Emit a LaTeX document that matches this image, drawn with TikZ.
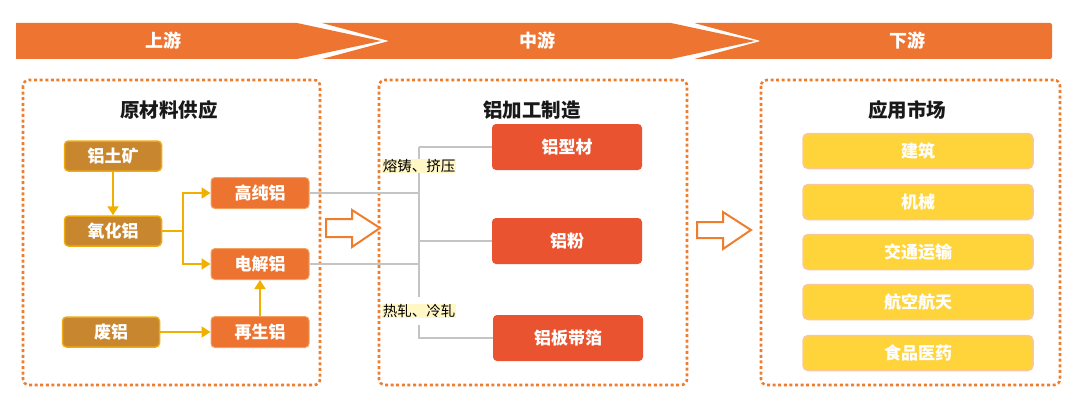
\documentclass[tikz,border=0pt]{standalone}
\usepackage{fontspec}
\setmainfont{Noto Sans CJK SC}
\usetikzlibrary{arrows.meta}
\definecolor{bannerC}{HTML}{ED7531}
\definecolor{dotC}{HTML}{EE7D2E}
\definecolor{brownC}{HTML}{C8862F}
\definecolor{brownB}{HTML}{EEAA10}
\definecolor{orgC}{HTML}{ED7430}
\definecolor{orgB}{HTML}{F3A060}
\definecolor{redC}{HTML}{E9532F}
\definecolor{yelC}{HTML}{FFD43A}
\definecolor{yelB}{HTML}{F9C79A}
\definecolor{goldC}{HTML}{EFB000}
\definecolor{grayC}{HTML}{C4C4C4}
\definecolor{labC}{HTML}{FFF7C6}
\tikzset{
  lbl/.style={font=\bfseries\fontsize{17}{19}\selectfont, text=white},
  brownbox/.style={lbl, draw=brownB, line width=1.5pt, fill=brownC, rounded corners=4pt, minimum width=97pt, minimum height=30pt, inner sep=0pt},
  orgbox/.style={lbl, draw=orgB, line width=1pt, fill=orgC, rounded corners=4pt, minimum width=98pt, minimum height=31pt, inner sep=0pt},
  redbox/.style={lbl, fill=redC, rounded corners=4pt, minimum width=150pt, minimum height=46pt, inner sep=0pt},
  yelbox/.style={lbl, draw=yelB, line width=1.5pt, fill=yelC, rounded corners=5pt, minimum width=230pt, minimum height=35pt, inner sep=0pt},
  dotbox/.style={draw=dotC, line width=2.6pt, dash pattern=on 3pt off 2.6pt, rounded corners=6pt},
  title/.style={font=\bfseries\fontsize{19.5}{21}\selectfont, text=black!90},
  garrow/.style={draw=goldC, line width=2pt, -{Triangle[length=9pt,width=11pt]}},
  gline/.style={draw=grayC, line width=2pt},
  proc/.style={fill=labC, font=\fontsize{14.5}{16}\selectfont, inner sep=0.5pt, text=black},
  hollow/.style={draw=dotC, line width=2pt, fill=white, line join=miter},
  bannertext/.style={font=\bfseries\fontsize{18}{20}\selectfont, text=white}
}
\begin{document}
\begin{tikzpicture}[x=1pt,y=-1pt]
\useasboundingbox (0,0) rectangle (1080,404);
% banner
\fill[bannerC] (16,23) -- (297,23) -- (381,41) -- (297,59) -- (16,59) -- cycle;
\fill[bannerC] (322,23) -- (671,23) -- (755,41) -- (671,59) -- (322,59) -- (389,41) -- cycle;
\fill[bannerC, rounded corners=2pt] (694,23) -- (1052,23) -- (1052,59) -- (694,59) -- (761,41) -- cycle;
\node[bannertext] (b1) at (163,41) {上游};
\node[bannertext] (b2) at (537,41) {中游};
\node[bannertext] (b3) at (907,41) {下游};
% dotted boxes
\draw[dotbox] (23,80) rectangle (320,385);
\draw[dotbox] (379,80) rectangle (687,385);
\draw[dotbox] (761,80) rectangle (1060,385);
\node[title] (t1) at (169,110) {原材料供应};
\node[title] (t2) at (532,110) {铝加工制造};
\node[title] (t3) at (907,110) {应用市场};
% upstream nodes
\node[brownbox] (ltk) at (113,156) {铝土矿};
\node[brownbox] (yhl) at (113,231) {氧化铝};
\node[brownbox] (fl) at (111,332) {废铝};
\node[orgbox] (gcl) at (260,193) {高纯铝};
\node[orgbox] (djl) at (260,264) {电解铝};
\node[orgbox] (zsl) at (260,332) {再生铝};
\coordinate (br) at (183,231);
\draw[garrow] (ltk) -- (yhl);
\draw[draw=goldC, line width=2pt] (yhl.east) -- (br);
\draw[garrow] (br) |- (gcl.west);
\draw[garrow] (br) |- (djl.west);
\draw[garrow] (fl) -- (zsl);
\draw[garrow] (zsl) -- (djl);
% midstream nodes
\node[redbox] (xc) at (567,147) {铝型材};
\node[redbox] (lf) at (567,241) {铝粉};
\node[redbox] (bdb) at (568,338) {铝板带箔};
\coordinate (v1) at (419,147);
\coordinate (v2) at (419,297);
\coordinate (v3) at (419,325);
\coordinate (v4) at (419,338);
\draw[gline] (gcl.east) -- (gcl.east -| v1);
\draw[gline] (djl.east) -- (djl.east -| v1);
\draw[gline] (v1) -- (v2);
\draw[gline] (v1) -- (xc.west);
\draw[gline] (v1 |- lf.west) -- (lf.west);
\draw[gline] (v3) -- (v4) -- (bdb.west);
\node[proc] (p1) at (419,166) {熔铸、挤压};
\node[proc] (p2) at (419,311) {热轧、冷轧};
% hollow arrows
\draw[hollow] (326,219) -- (352,219) -- (352,210) -- (380,228) -- (352,247) -- (352,237) -- (326,237) -- cycle;
\draw[hollow] (697,222) -- (723,222) -- (723,212) -- (751,230) -- (723,249) -- (723,238) -- (697,238) -- cycle;
% downstream
\node[yelbox] (m1) at (918,151) {建筑};
\node[yelbox] (m2) at (918,202) {机械};
\node[yelbox] (m3) at (918,252) {交通运输};
\node[yelbox] (m4) at (918,302) {航空航天};
\node[yelbox] (m5) at (918,353) {食品医药};
\end{tikzpicture}
\end{document}
